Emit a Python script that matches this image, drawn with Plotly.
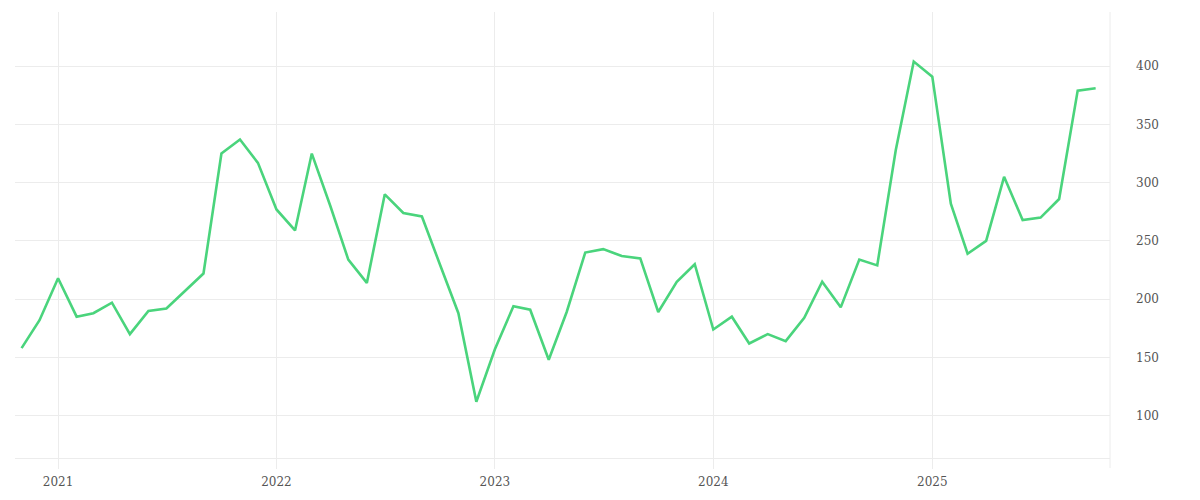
import plotly.graph_objects as go
import pandas as pd

dates = pd.date_range("2020-11-01", "2025-10-01", freq="MS")
values = [
    158, 182, 218, 185, 188, 197, 170, 190, 192, 207, 222, 325,
    337, 317, 277, 259, 325, 280, 234, 214, 290, 274, 271, 230,
    188, 112, 157, 194, 191, 148, 189, 240, 243, 237, 235, 189,
    215, 230, 174, 185, 162, 170, 164, 184, 215, 193, 234, 229,
    328, 404, 391, 282, 239, 250, 305, 268, 270, 286, 379, 381,
]
x_ticks = ["2021-01-01", "2022-01-01", "2023-01-01", "2024-01-01", "2025-01-01"]
x_tick_labels = ["2021", "2022", "2023", "2024", "2025"]
y_ticks = [100, 150, 200, 250, 300, 350, 400]

grid = "#ececec"
font = dict(family="DejaVu Serif, serif", size=12, color="#555555")

fig = go.Figure(go.Scatter(
    x=dates, y=values, mode="lines",
    line=dict(color="#4ad47c", width=2.6),
))

fig.update_layout(
    width=1200, height=500,
    margin=dict(l=7, r=98, t=4, b=50),
    paper_bgcolor="white", plot_bgcolor="white",
    showlegend=False, font=font,
    xaxis=dict(
        range=["2020-10-21", "2025-10-25"],
        tickvals=x_ticks, ticktext=x_tick_labels,
        showgrid=True, gridcolor=grid, gridwidth=1,
        showline=True, linecolor=grid, linewidth=1,
        ticks="outside", ticklen=10, tickcolor=grid, tickwidth=1,
        zeroline=False, tickfont=font, ticklabelstandoff=3,
    ),
    yaxis=dict(
        side="right", range=[63.7, 446.5],
        tickvals=y_ticks,
        showgrid=True, gridcolor=grid, gridwidth=1,
        showline=False, zeroline=False,
        ticks="", ticklabelstandoff=25, tickfont=font,
    ),
    shapes=[dict(
        type="line", xref="paper", yref="paper",
        x0=1, x1=1, y0=-10 / 446, y1=1,
        line=dict(color=grid, width=1), layer="below",
    )],
)

fig.write_html("out.html")
